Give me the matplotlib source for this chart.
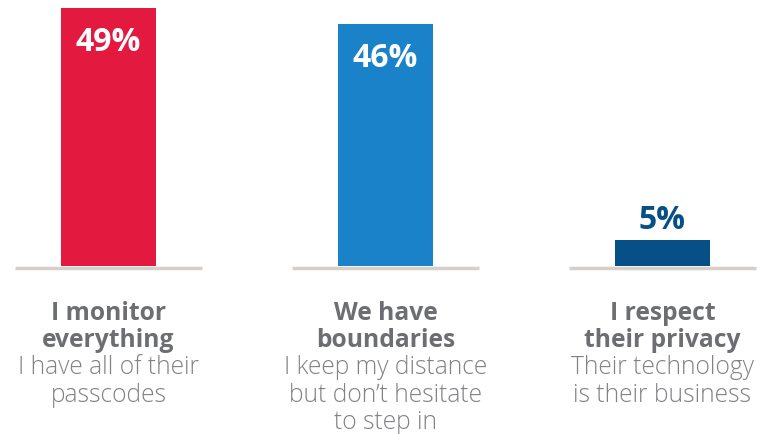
import matplotlib.pyplot as plt

plt.rcParams['font.family'] = ['Open Sans', 'DejaVu Sans']

values = [49, 46, 5]
value_labels = ['49%', '46%', '5%']
titles = [['I monitor', 'everything'],
          ['We have', 'boundaries'],
          ['I respect', 'their privacy']]
subtitles = [['I have all of their', 'passcodes'],
             ['I keep my distance', 'but don\u2019t hesitate', 'to step in'],
             ['Their technology', 'is their business']]
colors = ['#e31940', '#1a82c8', '#074f87']

PX = 5.27          # pixels per percent
BASE = 266         # baseline row in pixels from top


def yrow(r):
    # convert a pixel row (from top) to data y
    return (BASE - r) / PX


fig = plt.figure(figsize=(7.7, 4.34), dpi=100)
ax = fig.add_axes([0, 0, 1, 1])
ax.set_xlim(-108.5 / 277, (770 - 108.5) / 277)
ax.set_ylim(-(434 - BASE) / PX, BASE / PX)
ax.axis('off')

x = range(len(values))
ax.bar(x, values, width=95 / 277, color=colors, zorder=2)

for i, v in enumerate(values):
    # short grey baseline under each bar
    ax.plot([i - 0.3375, i + 0.3375], [-0.4, -0.4], color='#d6d0ca', lw=2.5,
            solid_capstyle='butt', zorder=1)
    if v > 20:
        ax.text(i, v - 43 / PX, value_labels[i], ha='center', va='baseline',
                color='white', fontsize=23, fontweight='bold')
    else:
        ax.text(i, v + 11 / PX, value_labels[i], ha='center', va='baseline',
                color=colors[i], fontsize=23, fontweight='bold')
    rows = [320, 347, 374, 402, 429]
    k = 0
    for t in titles[i]:
        ax.text(i, yrow(rows[k]), t, ha='center', va='baseline',
                color='#6d6e71', fontsize=17.7, fontweight='bold')
        k += 1
    for t in subtitles[i]:
        ax.text(i, yrow(rows[k]), t, ha='center', va='baseline',
                color='#808285', fontsize=17.7, fontweight='light')
        k += 1

fig.savefig('out.png', dpi=100)
